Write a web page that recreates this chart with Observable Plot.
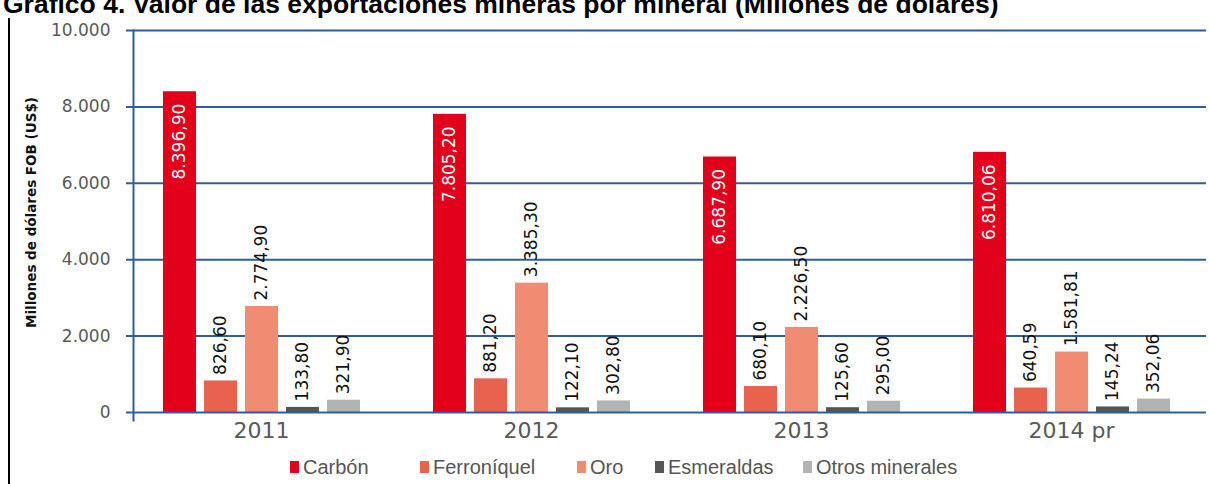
<!DOCTYPE html>
<html><head><meta charset="utf-8">
<script src="https://cdn.jsdelivr.net/npm/d3@7"></script>
<script src="https://cdn.jsdelivr.net/npm/@observablehq/plot@0.6"></script>
<style>
body{margin:0;background:#fff;width:1209px;height:484px;overflow:hidden;position:relative;font-family:"Liberation Sans",Arial,sans-serif}
#title{position:absolute;left:3px;top:-9px;font:bold 26.5px/26.5px "Liberation Sans",Arial,sans-serif;color:#000;white-space:nowrap}
#chart{position:absolute;left:0;top:18px}
#vline{position:absolute;left:8px;top:18px;width:2px;height:466px;background:#000}
#legend{position:absolute;top:452px;left:0;width:1209px;height:30px;font:20px "Liberation Sans",Arial,sans-serif;color:#555;white-space:nowrap}
.item{position:absolute;top:0;height:30px;display:flex;align-items:center}
.sw{width:9px;height:12px;margin-right:4px}
</style></head>
<body>
<div id="title">Gráfico 4. Valor de las exportaciones mineras por mineral (Millones de dólares)</div>
<div id="vline"></div>
<div id="chart"></div>
<div id="legend"></div>
<script>
const years = ["2011", "2012", "2013", "2014 pr"];
const minerals = ["Carbón", "Ferroníquel", "Oro", "Esmeraldas", "Otros minerales"];
const carbon = [8396.90, 7805.20, 6687.90, 6810.06];
const ferroniquel = [826.60, 881.20, 680.10, 640.59];
const oro = [2774.90, 3385.30, 2226.50, 1581.81];
const esmeraldas = [133.80, 122.10, 125.60, 145.24];
const otros = [321.90, 302.80, 295.00, 352.06];
const yTicks = [0, 2000, 4000, 6000, 8000, 10000];
const yLabel = "Millones de dólares FOB (US$)";
const colors = ["#e2001a", "#e8624d", "#f08c72", "#565656", "#b3b3b3"];
// legend layout (pixel offsets of each legend entry)
const legendLeft = [290, 420, 577, 655, 803];

const loc = d3.formatLocale({decimal: ",", thousands: ".", grouping: [3], currency: ["$", ""]});
const fmt2 = loc.format(",.2f"), fmt0 = loc.format(",.0f");
const series = [carbon, ferroniquel, oro, esmeraldas, otros];
const data = [];
years.forEach((y, i) => minerals.forEach((m, j) => data.push({year: y, mineral: m, value: series[j][i]})));
const blue = "#2f5e9c";

const chart = Plot.plot({
  width: 1209, height: 430,
  marginTop: 12, marginBottom: 36, marginLeft: 125, marginRight: 3,
  style: {background: "transparent", fontFamily: "DejaVu Sans"},
  fx: {domain: years, padding: 0},
  x: {domain: minerals, axis: null, paddingInner: 0.2, paddingOuter: 0.876},
  y: {domain: [0, 10000]},
  color: {domain: minerals, range: colors},
  marks: [
    Plot.ruleY(yTicks.slice(1), {stroke: blue, strokeWidth: 2}),
    Plot.barY(data, {fx: "year", x: "mineral", y: "value", fill: "mineral"}),
    Plot.ruleY([0], {stroke: blue, strokeWidth: 2}),
    Plot.frame({anchor: "left", facetAnchor: "left", stroke: blue, strokeWidth: 2, dx: 7, insetBottom: -8}),
    Plot.text(data.filter(d => d.mineral !== minerals[0]), {fx: "year", x: "mineral", y: "value", text: d => fmt2(d.value), rotate: -90, textAnchor: "start", dy: -6, fontSize: 17, fill: "#111"}),
    Plot.text(data.filter(d => d.mineral === minerals[0]), {fx: "year", x: "mineral", y: "value", text: d => fmt2(d.value), rotate: -90, textAnchor: "end", dy: 12, fontSize: 17, fill: "#fff"}),
    Plot.axisY({ticks: yTicks, tickFormat: fmt0, tickSize: 0, tickPadding: 16, fontSize: 17, color: "#595959", label: null}),
    Plot.text([yLabel], {text: d => d, frameAnchor: "left", facetAnchor: "left", rotate: -90, textAnchor: "middle", dx: -95, dy: -9, fontSize: 13.5, fontWeight: "bold", fill: "#111"}),
    Plot.axisFx({anchor: "bottom", tickSize: 0, tickPadding: 10, fontSize: 22, color: "#595959", label: null})
  ]
});
document.getElementById("chart").appendChild(chart);

const legend = d3.select("#legend");
minerals.forEach((m, i) => {
  const it = legend.append("div").attr("class", "item").style("left", legendLeft[i] + "px");
  it.append("div").attr("class", "sw").style("background", colors[i]);
  it.append("span").text(m);
});
</script>
</body></html>
